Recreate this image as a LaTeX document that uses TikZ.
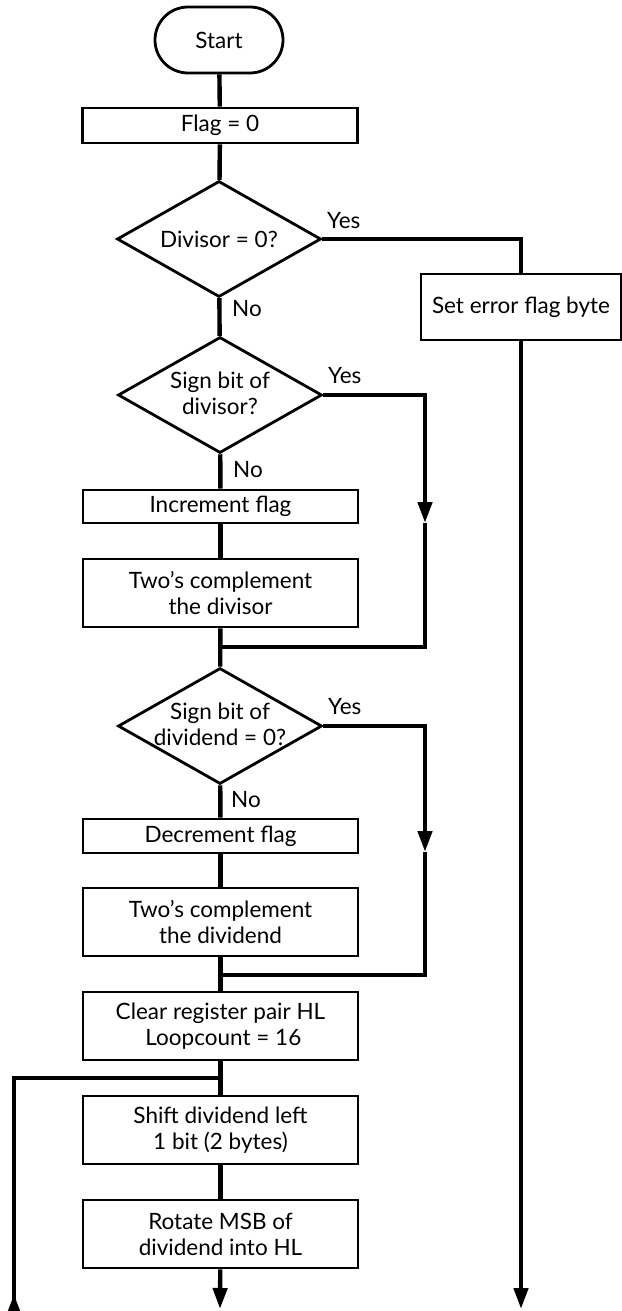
\documentclass[tikz,border=0pt]{standalone}
\usepackage{fontspec}
\setmainfont{Lato}
\usetikzlibrary{shapes.geometric,arrows.meta}
\begin{document}
\begin{tikzpicture}[x=1pt,y=-1pt,
  font=\fontsize{22.5}{26}\selectfont,
  box/.style={draw,line width=2.8pt,minimum width=275pt,align=center,inner sep=0pt},
  term/.style={draw,line width=2.8pt,minimum width=128pt,minimum height=66pt,rounded corners=33pt,inner sep=0pt},
  dia/.style={draw,diamond,line width=2.8pt,minimum width=204pt,minimum height=116pt,inner sep=0pt},
  txt/.style={align=center,inner sep=0pt},
  lbl/.style={anchor=west,inner sep=0pt},
  conn/.style={line width=4.4pt},
  tip/.style={-{Triangle[length=21pt,width=14pt]}}
]
\useasboundingbox (0,0) rectangle (621,1311);

% main column
\node[term] (start) at (219,40) {Start};
\node[box,minimum height=35pt] (flag) at (220,125.5) {Flag = 0};
\node[dia] (d1) at (219,239) {};
\node[txt] (d1t) at (219,239) {Divisor = 0?};
\node[box,minimum width=200pt,minimum height=66pt] (err) at (521,307) {Set error flag byte};
\node[dia] (d2) at (220,395) {};
\node[txt] (d2t) at (220,393) {Sign bit of\\divisor?};
\node[box,minimum height=33pt] (inc) at (220.5,506.5) {Increment flag};
\node[box,minimum height=68pt] (tcd) at (220.5,593) {Two’s complement\\the divisor};
\node[dia] (d3) at (220,726) {};
\node[txt] (d3t) at (220,724) {Sign bit of\\dividend = 0?};
\node[box,minimum height=34pt] (dec) at (220.5,836) {Decrement flag};
\node[box,minimum height=68pt] (tcv) at (220.5,922) {Two’s complement\\the dividend};
\node[box,minimum height=68pt] (clr) at (220.5,1026) {Clear register pair HL\\\ Loopcount = 16};
\node[box,minimum height=68pt] (shf) at (220.5,1130) {Shift dividend left\\1 bit (2 bytes)};
\node[box,minimum height=68pt] (rot) at (220.5,1234) {Rotate MSB of\\dividend into HL};

% branch labels
\node[lbl] (y1) at (327,221) {Yes};
\node[lbl] (n1) at (232,309) {No};
\node[lbl] (y2) at (328,376) {Yes};
\node[lbl] (n2) at (233,470) {No};
\node[lbl] (y3) at (328,707) {Yes};
\node[lbl] (n3) at (231,800) {No};

% junction points
\coordinate (a1) at (425,523);
\coordinate (j1) at (220,647);
\coordinate (a2) at (425,852);
\coordinate (j2) at (220,975);
\coordinate (e1) at (521,1309);
\coordinate (r1) at (220,1309);
\coordinate (lp) at (220,1078);
\coordinate (lc) at (14,1078);
\coordinate (lb) at (14,1330);
\coordinate (lt) at (14,1294);

% main flow
\draw[conn] (start) -- (flag);
\draw[conn] (flag) -- (d1);
\draw[conn] (d1) -- (d2);
\draw[conn] (d2) -- (inc);
\draw[conn] (inc) -- (tcd);
\draw[conn] (tcd) -- (d3);
\draw[conn] (d3) -- (dec);
\draw[conn] (dec) -- (tcv);
\draw[conn] (tcv) -- (clr);
\draw[conn] (clr) -- (shf);
\draw[conn] (shf) -- (rot);
\draw[conn,tip] (rot) -- (r1);

% error branch
\draw[conn] (d1.east) -| (err.north);
\draw[conn,tip] (err.south) -- (e1);

% bypass branches
\draw[conn,tip] (d2.east) -| (a1);
\draw[conn] (a1) |- (j1);
\draw[conn,tip] (d3.east) -| (a2);
\draw[conn] (a2) |- (j2);

% loop return
\draw[conn] (lb) -- (lc) -- (lp);
\draw[conn,tip] (lb) -- (lt);
\end{tikzpicture}
\end{document}
